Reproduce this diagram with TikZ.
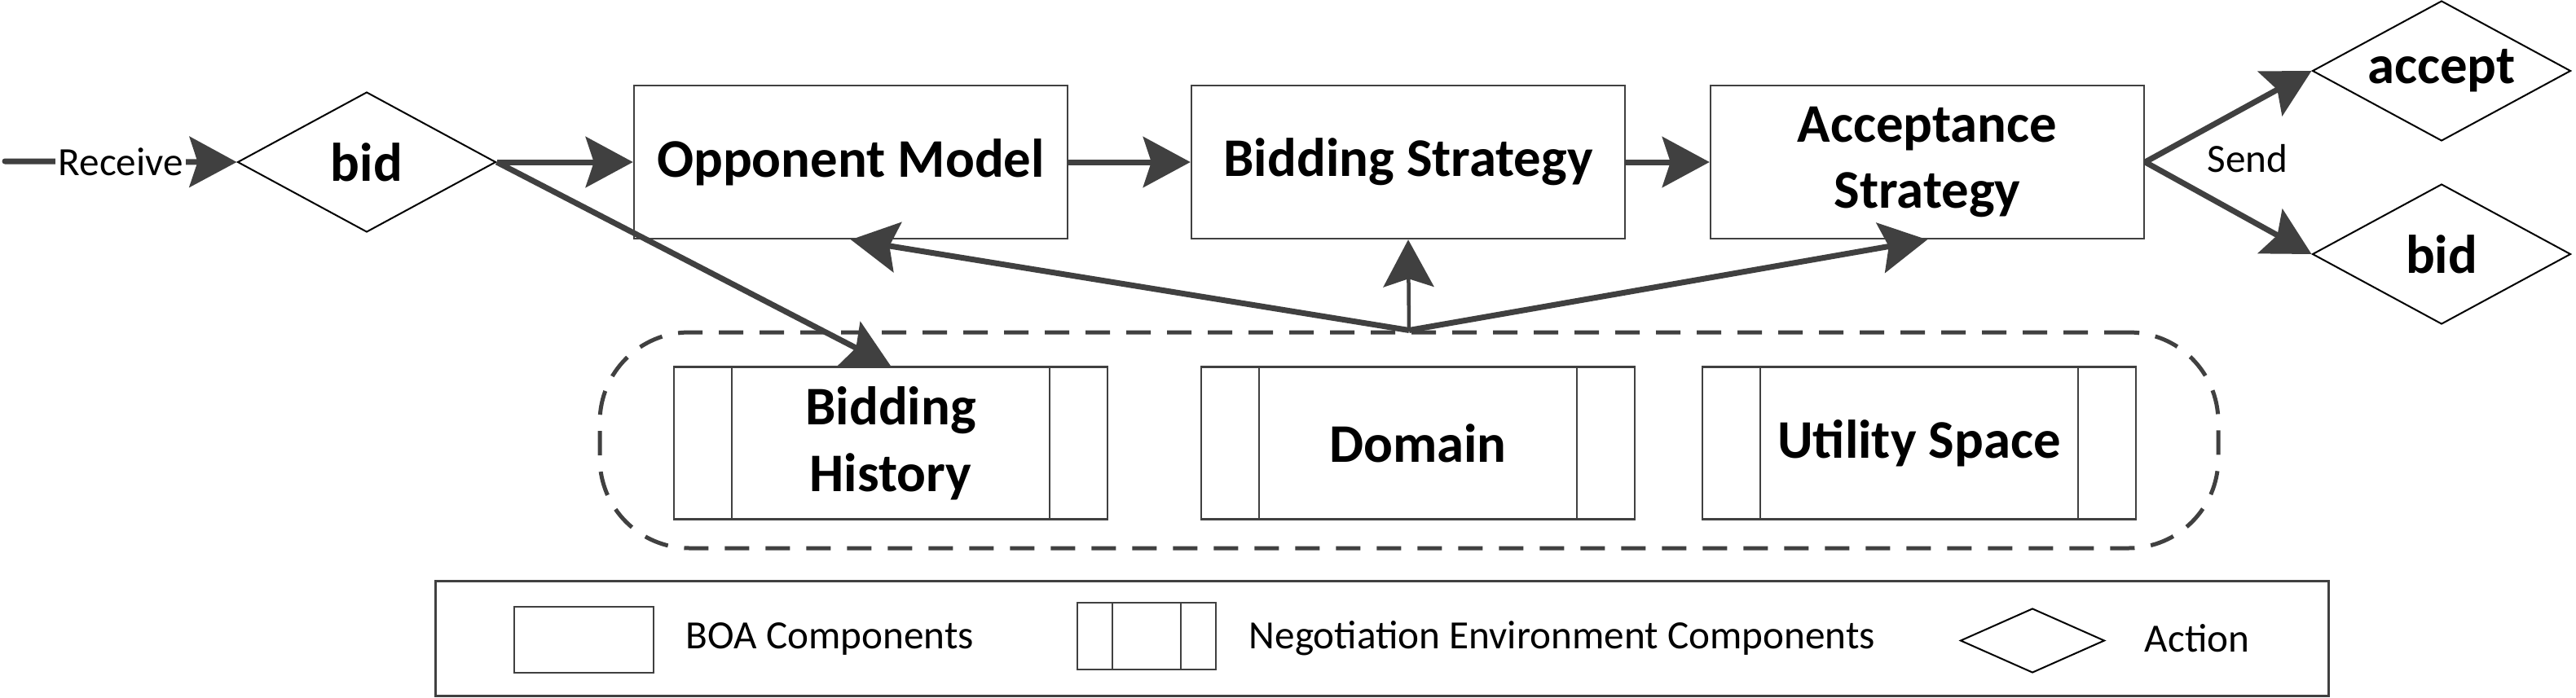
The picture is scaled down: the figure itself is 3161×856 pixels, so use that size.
\documentclass[tikz,border=0pt]{standalone}
\usepackage{fontspec}
\setmainfont{Carlito}
\usetikzlibrary{shapes.geometric, arrows.meta}
\definecolor{linegray}{HTML}{404040}
\begin{document}
\begin{tikzpicture}[x=0.1mm, y=-0.1mm]
\tikzstyle{boa}=[rectangle, draw=linegray, line width=0.25mm, fill=white, minimum width=53.2mm, minimum height=18.8mm, align=center, font=\fontsize{19}{23.3}\selectfont\bfseries]
\tikzstyle{action}=[diamond, draw=black, line width=0.2mm, fill=white, aspect=1.84, inner sep=0pt, minimum width=31.7mm, minimum height=17.2mm, font=\fontsize{19}{23.3}\selectfont\bfseries]
\tikzset{envbox/.style={boa, minimum height=18.7mm, path picture={
  \draw[linegray, line width=0.2mm] ([xshift=#1]path picture bounding box.north west) -- ([xshift=#1]path picture bounding box.south west);
  \draw[linegray, line width=0.2mm] ([xshift=-#1]path picture bounding box.north east) -- ([xshift=-#1]path picture bounding box.south east);}}}
\tikzstyle{flow}=[draw=linegray, line width=0.7mm, -{Stealth[length=5.8mm, width=6.2mm, inset=1mm]}]
\tikzstyle{lbl}=[font=\fontsize{14}{16}\selectfont]

\useasboundingbox (0,0) rectangle (3161,856);

% environment around the negotiation components
\node[draw=linegray, line width=0.5mm, dash pattern=on 3mm off 2mm, rounded corners=11mm,
    minimum width=198.6mm, minimum height=26.5mm] (env) at (1729,540.5) {};

\node[action] (bidin) at (450,199) {bid};
\node[boa] (opp) at (1044,199) {Opponent Model};
\node[boa] (bidstrat) at (1728,199) {Bidding Strategy};
\node[boa] (accstrat) at (2365,199) {Acceptance\\Strategy};
\node[action] (accept) at (2996,87) {accept};
\node[action] (bidout) at (2996,312) {bid};
\node[lbl] (send) at (2758,195) {Send};

\node[envbox=7.1mm] (hist) at (1093,544) {Bidding\\History};
\node[envbox=7.1mm] (domain) at (1740,544) {Domain};
\node[envbox=7.1mm] (utility) at (2355,544) {Utility Space};

\coordinate (recv) at (6,198);
\draw[flow, line cap=round] (recv) -- node[lbl, fill=white, inner sep=1pt] (recvtxt) {Receive} (bidin.west);
\draw[flow] (bidin.east) -- (opp.west);
\draw[flow] (opp) -- (bidstrat);
\draw[flow] (bidstrat) -- (accstrat);
\draw[flow] (bidin.east) -- (hist.north);
\draw[flow] (accstrat.east) -- (accept.west);
\draw[flow] (accstrat.east) -- (bidout.west);
\draw[flow] (env.north) -- (opp.south);
\draw[flow, line width=0.45mm] (env.north) -- (bidstrat.south);
\draw[flow] (env.north) -- (accstrat.south);

% legend
\node[draw=linegray, line width=0.3mm, minimum width=232.3mm, minimum height=14.1mm] (legend) at (1695.5,783.5) {};
\node[boa, minimum width=17.1mm, minimum height=8.1mm] (legboa) at (716.5,785.5) {};
\node[lbl, anchor=west, inner sep=0pt] (legboatxt) at (841,784) {BOA Components};
\node[envbox=4.3mm, minimum width=17mm, minimum height=8.2mm] (legenv) at (1407,781) {};
\node[lbl, anchor=west, inner sep=0pt] (legenvtxt) at (1532,784) {Negotiation Environment Components};
\node[action, minimum width=17.7mm, minimum height=7.9mm] (legact) at (2494,786.5) {};
\node[lbl, anchor=west, inner sep=0pt] (legacttxt) at (2631,784) {Action};
\end{tikzpicture}
\end{document}
